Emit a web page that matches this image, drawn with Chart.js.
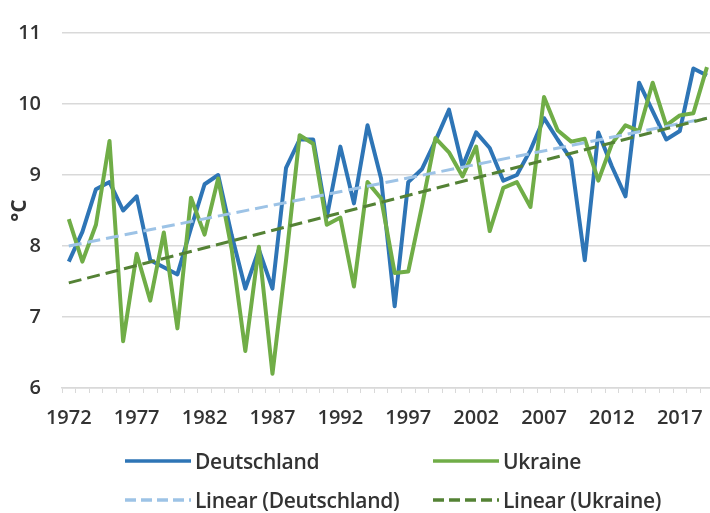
<!DOCTYPE html>
<html>
<head>
<meta charset="utf-8">
<script src="https://cdn.jsdelivr.net/npm/chart.js@4.4.1/dist/chart.umd.min.js"></script>
<style>
	body { margin: 0; background: #fff; overflow: hidden; font-family: "Open Sans", sans-serif; }
	#wrap { position: absolute; left: 0; top: 0; width: 720px; height: 513px; }
	#legend { position: absolute; left: 0; top: 0; width: 710px; height: 513px; pointer-events: none; }
	.item { position: absolute; display: flex; align-items: center; font-size: 21px; font-weight: 600; color: #333; white-space: nowrap; letter-spacing: -0.3px; }
	.item svg { margin-right: 4px; }
</style>
</head>
<body>
<div id="wrap"><canvas id="tempChart" width="720" height="513"></canvas></div>
<div id="legend">
	<div class="item" style="left:125px; top:447px;">
		<svg width="66" height="8"><line x1="0" y1="4" x2="66" y2="4" stroke="#2E75B6" stroke-width="3.5"/></svg>Deutschland
	</div>
	<div class="item" style="left:433px; top:447px;">
		<svg width="66" height="8"><line x1="0" y1="4" x2="66" y2="4" stroke="#70AD47" stroke-width="3.5"/></svg>Ukraine
	</div>
	<div class="item" style="left:125px; top:486px;">
		<svg width="66" height="8"><line x1="0" y1="4" x2="66" y2="4" stroke="#9DC3E6" stroke-width="3.5" stroke-dasharray="11 5"/></svg>Linear (Deutschland)
	</div>
	<div class="item" style="left:433px; top:486px;">
		<svg width="66" height="8"><line x1="0" y1="4" x2="66" y2="4" stroke="#548235" stroke-width="3.5" stroke-dasharray="11 5"/></svg>Linear (Ukraine)
	</div>
</div>

<script>
	// Jahresmitteltemperatur 1972-2019
	var years = [1972, 1973, 1974, 1975, 1976, 1977, 1978, 1979, 1980, 1981,
		1982, 1983, 1984, 1985, 1986, 1987, 1988, 1989, 1990, 1991,
		1992, 1993, 1994, 1995, 1996, 1997, 1998, 1999, 2000, 2001,
		2002, 2003, 2004, 2005, 2006, 2007, 2008, 2009, 2010, 2011,
		2012, 2013, 2014, 2015, 2016, 2017, 2018, 2019];

	var deutschland = [7.78, 8.2, 8.8, 8.9, 8.5, 8.7, 7.8, 7.7, 7.6, 8.25,
		8.87, 9.0, 8.15, 7.4, 7.95, 7.4, 9.1, 9.5, 9.5, 8.4,
		9.4, 8.6, 9.7, 8.95, 7.15, 8.9, 9.08, 9.48, 9.92, 9.12,
		9.6, 9.38, 8.92, 9.0, 9.35, 9.8, 9.5, 9.22, 7.8, 9.6,
		9.12, 8.7, 10.3, 9.9, 9.5, 9.62, 10.5, 10.4];

	var ukraine = [8.38, 7.78, 8.3, 9.48, 6.66, 7.89, 7.23, 8.19, 6.84, 8.68,
		8.16, 8.95, 7.95, 6.52, 7.99, 6.2, 7.8, 9.56, 9.44, 8.3,
		8.4, 7.43, 8.9, 8.67, 7.62, 7.64, 8.55, 9.52, 9.32, 8.98,
		9.4, 8.21, 8.82, 8.9, 8.55, 10.1, 9.63, 9.47, 9.51, 8.92,
		9.44, 9.7, 9.62, 10.3, 9.7, 9.84, 9.87, 10.52];

	// Endpunkte der linearen Trends
	var trendYears = [1972, 2019];
	var trendDeutschland = [8.0, 9.8];
	var trendUkraine = [7.48, 9.8];

	var yTicks = [6, 7, 8, 9, 10, 11];

	var labels = years.map(String);

	function trendPoints(vals) {
		return trendYears.map(function (y, i) {
			return { x: String(y), y: vals[i] };
		});
	}

	var font = { family: "'Open Sans', sans-serif", size: 20, weight: '600' };

	var ctx = document.getElementById("tempChart").getContext("2d");
	var chart = new Chart(ctx, {
		type: 'line',
		data: {
			labels: labels,
			datasets: [
				{
					label: 'Deutschland',
					data: deutschland,
					borderColor: '#2E75B6',
					borderWidth: 4,
					pointRadius: 0,
					tension: 0,
					borderJoinStyle: 'round',
					order: 4
				},
				{
					label: 'Ukraine',
					data: ukraine,
					borderColor: '#70AD47',
					borderWidth: 4,
					pointRadius: 0,
					tension: 0,
					borderJoinStyle: 'round',
					order: 3
				},
				{
					label: 'Linear (Deutschland)',
					data: trendPoints(trendDeutschland),
					borderColor: '#9DC3E6',
					borderWidth: 3,
					borderDash: [13, 6],
					pointRadius: 0,
					order: 2
				},
				{
					label: 'Linear (Ukraine)',
					data: trendPoints(trendUkraine),
					borderColor: '#548235',
					borderWidth: 3,
					borderDash: [13, 6],
					pointRadius: 0,
					order: 1
				}
			]
		},
		options: {
			responsive: false,
			animation: false,
			layout: { padding: { left: 0, right: 4, top: 23, bottom: 0 } },
			plugins: {
				legend: { display: false },
				tooltip: { enabled: false }
			},
			scales: {
				x: {
					type: 'category',
					offset: true,
					afterFit: function (s) { s.height = 125; },
					grid: {
						display: true,
						drawOnChartArea: false,
						offset: true,
						tickLength: 5,
						color: '#d9d9d9',
						lineWidth: 1
					},
					border: { display: true, color: '#d9d9d9', width: 1.5 },
					ticks: {
						autoSkip: false,
						maxRotation: 0,
						padding: 13,
						color: '#333',
						font: font,
						callback: function (val, i) {
							return (years[i] - 1972) % 5 === 0 ? String(years[i]) : '';
						}
					}
				},
				y: {
					min: 6,
					max: 11,
					afterFit: function (s) { s.width = 62; },
					afterBuildTicks: function (s) {
						s.ticks = yTicks.map(function (v) { return { value: v }; });
					},
					grid: { color: '#d9d9d9', lineWidth: 1.5, drawTicks: false },
					border: { display: false },
					ticks: {
						padding: 21,
						color: '#333',
						font: font
					},
					title: {
						display: true,
						text: '°C',
						color: '#333',
						font: { family: "'Open Sans', sans-serif", size: 21, weight: 'bold' },
						padding: { top: 7, bottom: 0 }
					}
				}
			}
		}
	});
</script>
</body>
</html>
